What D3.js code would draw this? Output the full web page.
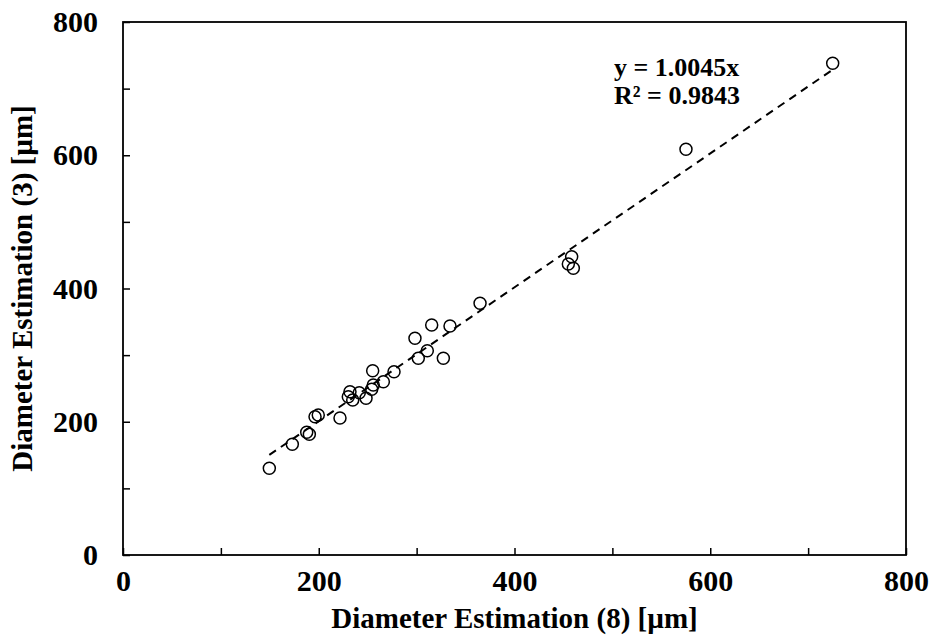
<!DOCTYPE html>
<html>
<head>
<meta charset="utf-8">
<script src="https://cdn.jsdelivr.net/npm/d3@7"></script>
<style>
  body { margin: 0; background: #fff; }
  svg { font-family: "Liberation Serif", "Times New Roman", serif; font-weight: bold; }
  .axis path { display: none; }
  .axis line { stroke: #000; stroke-width: 1.5; }
  .axis text { font-size: 30px; font-family: "Liberation Serif", serif; font-weight: bold; fill: #000; }
</style>
</head>
<body>
<svg width="931" height="639"></svg>
<script>
// estimated diameters, method (8) on x, method (3) on y
var diam8 = [149.5, 173.0, 187.7, 190.4, 196.2, 199.5, 221.7, 230.2, 231.9, 234.7,
             241.4, 248.3, 254.1, 255.7, 255.1, 266.0, 276.9, 298.3, 301.7, 310.9,
             315.4, 327.3, 334.1, 364.8, 458.4, 455.0, 460.1, 575.2, 725.1];
var diam3 = [130.1, 166.2, 184.2, 181.2, 207.6, 210.1, 205.6, 237.6, 245.1, 232.6,
             243.6, 235.2, 248.7, 255.2, 276.6, 260.1, 275.1, 325.3, 295.2, 306.6,
             345.2, 295.2, 343.7, 377.8, 447.7, 436.8, 430.3, 609.0, 738.0];
var tickVals = [0, 100, 200, 300, 400, 500, 600, 700, 800];
var slope = 1.0045;
var eqLines = ["y = 1.0045x", "R\u00b2 = 0.9843"];

var data = diam8.map(function(d, i) { return { x: d, y: diam3[i] }; });

var svg = d3.select("svg");
var mLeft = 123, mTop = 22, width = 783, height = 533;

var xScale = d3.scaleLinear().domain([0, 800]).range([0, width]);
var yScale = d3.scaleLinear().domain([0, 800]).range([height, 0]);

var g = svg.append("g").attr("transform", "translate(" + mLeft + "," + mTop + ")");

var lbl = function(d) { return d % 200 === 0 ? d : ""; };

g.append("g").attr("class", "axis")
    .attr("transform", "translate(0," + height + ")")
    .call(d3.axisBottom(xScale).tickValues(tickVals).tickSizeInner(-7).tickSizeOuter(0)
        .tickPadding(15).tickFormat(lbl));

g.append("g").attr("class", "axis")
    .call(d3.axisLeft(yScale).tickValues(tickVals).tickSizeInner(-7).tickSizeOuter(0)
        .tickPadding(25).tickFormat(lbl));

g.append("rect")
    .attr("width", width).attr("height", height)
    .attr("fill", "none").attr("stroke", "#000").attr("stroke-width", 1.8);

// trendline over the data range
var xr = d3.extent(diam8);
g.append("line")
    .attr("x1", xScale(xr[0])).attr("y1", yScale(slope * xr[0]))
    .attr("x2", xScale(xr[1])).attr("y2", yScale(slope * xr[1]))
    .attr("stroke", "#000").attr("stroke-width", 2)
    .attr("stroke-dasharray", "8,6");

g.selectAll(".pt")
    .data(data)
    .enter()
    .append("circle")
    .attr("class", "pt")
    .attr("cx", function(d) { return xScale(d.x); })
    .attr("cy", function(d) { return yScale(d.y); })
    .attr("r", 6)
    .attr("fill", "none")
    .attr("stroke", "#000")
    .attr("stroke-width", 1.5);

svg.selectAll(".eq")
    .data(eqLines)
    .enter()
    .append("text")
    .attr("class", "eq")
    .attr("x", 614)
    .attr("y", function(d, i) { return 76 + i * 28; })
    .attr("font-size", 26)
    .text(function(d) { return d; });

svg.append("text")
    .attr("x", mLeft + width / 2)
    .attr("y", 628)
    .attr("text-anchor", "middle")
    .attr("font-size", 29)
    .text("Diameter Estimation (8) [\u00b5m]");

svg.append("text")
    .attr("transform", "translate(32," + (mTop + height / 2) + ") rotate(-90)")
    .attr("text-anchor", "middle")
    .attr("font-size", 29)
    .text("Diameter Estimation (3) [\u00b5m]");
</script>
</body>
</html>
